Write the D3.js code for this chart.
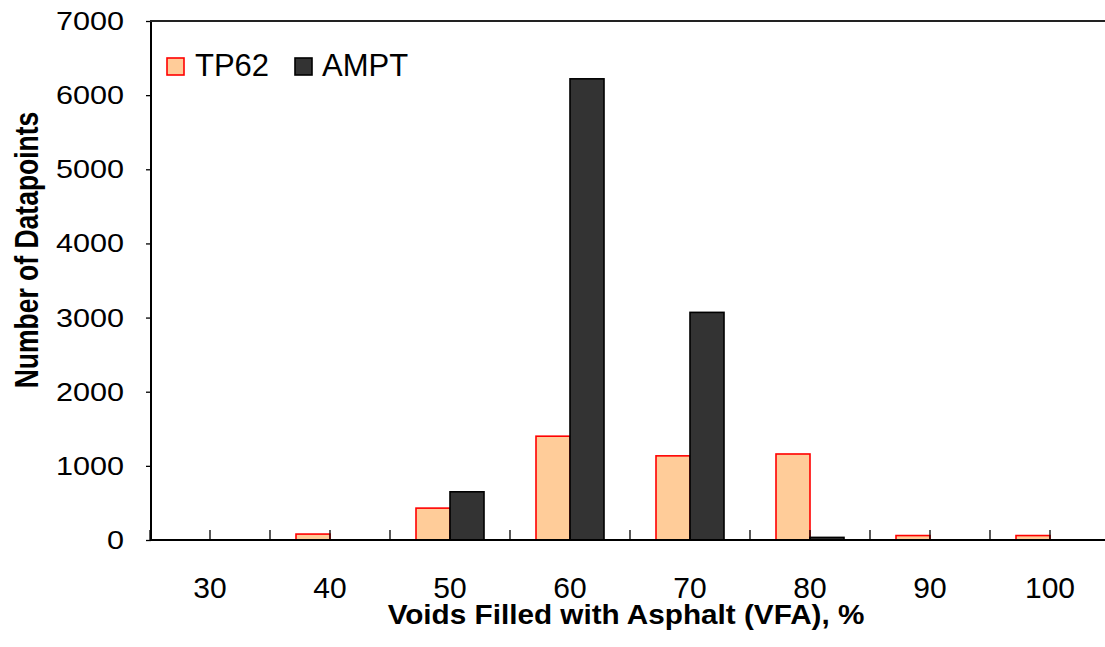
<!DOCTYPE html>
<html><head><meta charset="utf-8">
<script src="https://cdn.jsdelivr.net/npm/d3@7"></script>
<style>
html,body{margin:0;padding:0;background:#fff;}
svg{display:block;font-family:"Liberation Sans",Arial,sans-serif;}
</style></head>
<body><svg id="c" width="1105" height="647"></svg>
<script>
const categories = ["30","40","50","60","70","80","90","100"];
const seriesNames = ["TP62","AMPT"];
const tp62 = [0, 80, 430, 1400, 1135, 1160, 60, 60];
const ampt = [0, 0, 650, 6220, 3070, 35, 0, 0];
const yTicks = [0,1000,2000,3000,4000,5000,6000,7000];
const fills = {TP62:"#FFCC99", AMPT:"#333333"};
const strokes = {TP62:"#FF0000", AMPT:"#000000"};

const svg = d3.select("#c");
const L = 151, R = 1111, T = 21, B = 540;
const p = 52/120;
const x = d3.scaleBand().domain(categories).range([L-1, R-1]).paddingInner(p).paddingOuter(p/2);
const x1 = d3.scaleBand().domain(seriesNames).range([0, x.bandwidth()]);
const y = d3.scaleLinear().domain([0,7000]).range([B, T]);

const data = categories.map((c,i)=>({c, vals:[{s:"TP62",v:tp62[i]},{s:"AMPT",v:ampt[i]}]}));

// bars
const g = svg.append("g");
g.selectAll("g.cat").data(data).join("g").attr("class","cat")
 .attr("transform", d=>`translate(${x(d.c)},0)`)
 .selectAll("rect").data(d=>d.vals.filter(v=>v.v>0)).join("rect")
 .attr("x", d=>x1(d.s)).attr("width", x1.bandwidth())
 .attr("y", d=>y(d.v)).attr("height", d=>B-y(d.v))
 .attr("fill", d=>fills[d.s]).attr("stroke", d=>strokes[d.s]).attr("stroke-width",1.6);

// bottom ticks (boundaries and centers), pointing inward
const step = x.step();
const tickPos = [];
categories.forEach(c=>{
  tickPos.push(x(c) - step*p/2);
  tickPos.push(x(c) + x.bandwidth()/2);
});
tickPos.push(x(categories[categories.length-1]) + x.bandwidth() + step*p/2);
svg.append("g").selectAll("line").data(tickPos).join("line")
 .attr("x1",d=>d).attr("x2",d=>d).attr("y1",B).attr("y2",B-10)
 .attr("stroke","#000").attr("stroke-width",1.3);

// y axis ticks
const ya = d3.axisLeft(y).tickValues(yTicks).tickSize(5).tickFormat("");
const yg = svg.append("g").attr("transform",`translate(${L},0)`).call(ya);
yg.select(".domain").remove();
yg.selectAll("line").attr("stroke","#000").attr("stroke-width",1.3);

// frame lines
svg.append("line").attr("x1",L).attr("x2",L).attr("y1",T-1).attr("y2",B+1).attr("stroke","#000").attr("stroke-width",2);
svg.append("line").attr("x1",L-1).attr("x2",1105).attr("y1",B).attr("y2",B).attr("stroke","#000").attr("stroke-width",2);
svg.append("line").attr("x1",L-1).attr("x2",1105).attr("y1",T).attr("y2",T).attr("stroke","#222").attr("stroke-width",2);

// y tick labels
svg.append("g").selectAll("text").data(yTicks).join("text")
 .attr("transform", d=>`translate(124,${y(d)+9}) scale(1.2,1)`)
 .attr("text-anchor","end").attr("font-size",25.5).attr("fill","#000")
 .text(d=>d);

// x tick labels
svg.append("g").selectAll("text").data(categories).join("text")
 .attr("x", c=>x(c)+x.bandwidth()/2).attr("y",598)
 .attr("text-anchor","middle").attr("font-size",30).attr("fill","#000")
 .text(c=>c);

// axis titles
svg.append("text").attr("transform","translate(626,624) scale(1.1,1)")
 .attr("text-anchor","middle").attr("font-size",27).attr("font-weight","bold")
 .text("Voids Filled with Asphalt (VFA), %");
svg.append("text").attr("transform","translate(38,250) scale(1.22,1) rotate(-90)")
 .attr("text-anchor","middle").attr("font-size",26.5).attr("font-weight","bold")
 .text("Number of Datapoints");

// legend
const leg = [{s:"TP62",x:166,tx:195},{s:"AMPT",x:294,tx:322}];
leg.forEach(l=>{
  svg.append("rect").attr("x",l.x+1).attr("y",58).attr("width",17).attr("height",17)
   .attr("fill",fills[l.s]).attr("stroke",strokes[l.s]).attr("stroke-width",1.6);
  svg.append("text").attr("x",l.tx).attr("y",76).attr("font-size",31).text(l.s);
});
</script></body></html>
